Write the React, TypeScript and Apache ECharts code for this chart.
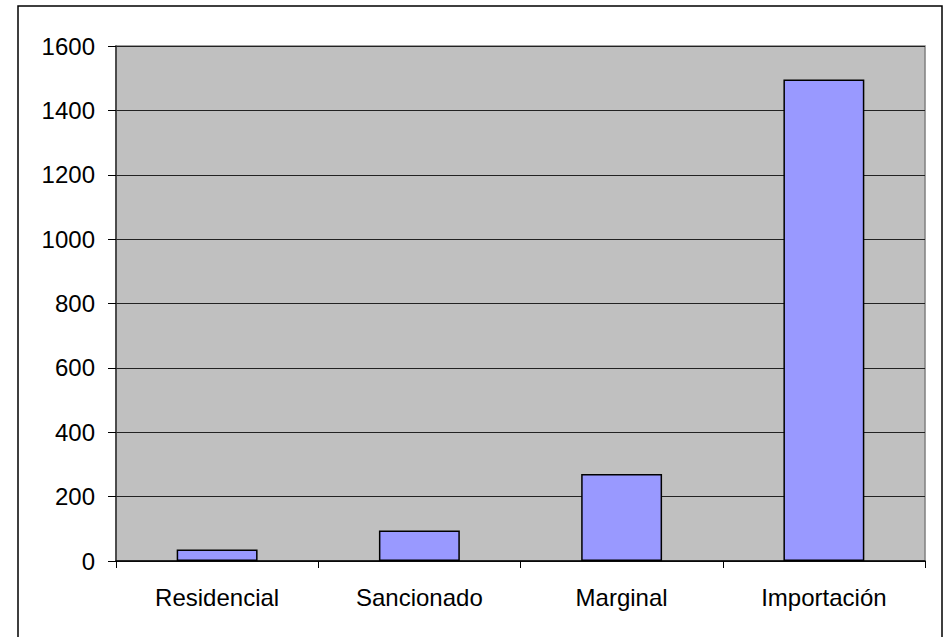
import React, { useEffect, useRef } from "react";
import * as echarts from "echarts";

const categories = ["Residencial", "Sancionado", "Marginal", "Importación"];
const values = [36, 95, 270, 1496];
const yTicks = { min: 0, max: 1600, interval: 200 };

export default function App() {
  const ref = useRef<HTMLDivElement>(null);
  useEffect(() => {
    document.body.style.margin = "0";
    const chart = echarts.init(ref.current!, null, { renderer: "svg" });
    const font = "'Liberation Sans', Arial, sans-serif";
    chart.setOption({
      animation: false,
      backgroundColor: "#ffffff",
      graphic: [
        {
          type: "rect",
          shape: { x: 18, y: 6, width: 924, height: 650 },
          style: { fill: "none", stroke: "#000", lineWidth: 1.5 },
          silent: true,
        },
      ],
      grid: {
        left: 116,
        top: 46,
        right: 19,
        bottom: 76,
        show: true,
        backgroundColor: "#C0C0C0",
        borderColor: "#808080",
        borderWidth: 1.5,
      },
      xAxis: {
        type: "category",
        data: categories,
        axisLine: { show: true, lineStyle: { color: "#000", width: 1.5 } },
        axisTick: { show: true, length: 7, lineStyle: { color: "#000" } },
        axisLabel: { color: "#000", fontSize: 24, fontFamily: font, margin: 24 },
      },
      yAxis: {
        type: "value",
        min: yTicks.min,
        max: yTicks.max,
        interval: yTicks.interval,
        axisLine: { show: true, lineStyle: { color: "#333", width: 1.5 } },
        axisTick: { show: true, length: 8, lineStyle: { color: "#000" } },
        axisLabel: {
          color: "#000",
          fontSize: 24,
          fontFamily: font,
          margin: 21,
          formatter: (v: number) => String(v),
        },
        splitLine: { show: true, lineStyle: { color: "#222", width: 1 } },
      },
      series: [
        {
          type: "bar",
          data: values,
          barWidth: "40%",
          itemStyle: { color: "#9999FF", borderColor: "#000", borderWidth: 1.5 },
        },
      ],
    });
    return () => chart.dispose();
  }, []);
  return <div ref={ref} style={{ width: 944, height: 637 }} />;
}
